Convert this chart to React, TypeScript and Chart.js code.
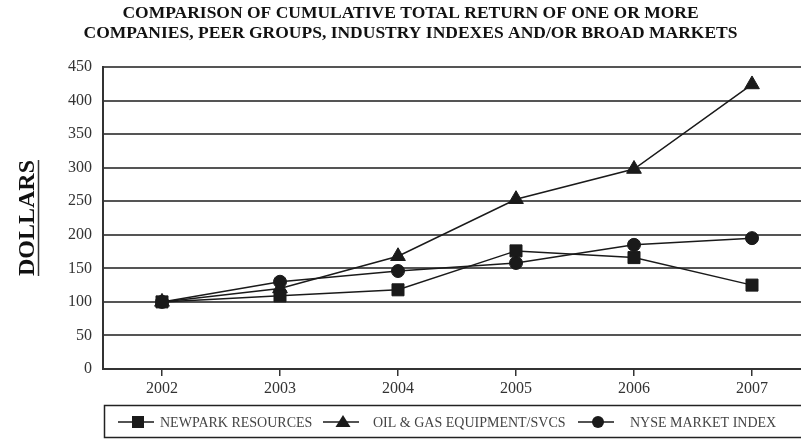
import React, { useEffect, useRef } from 'react';
import { Chart, registerables } from 'chart.js';

Chart.register(...registerables);

// ---- data ----
const years = [2002, 2003, 2004, 2005, 2006, 2007];
const newparkResources = [100, 109, 118, 176, 166, 125];
const oilGasEquipment = [100, 120, 168, 253, 298, 424];
const nyseMarketIndex = [100, 130, 146, 158, 185, 195];
const seriesNames = ['NEWPARK RESOURCES', 'OIL & GAS EQUIPMENT/SVCS', 'NYSE MARKET INDEX'];
const titleLines = [
  'COMPARISON OF CUMULATIVE TOTAL RETURN OF ONE OR MORE',
  'COMPANIES, PEER GROUPS, INDUSTRY INDEXES AND/OR BROAD MARKETS',
];
const yAxisTitle = 'DOLLARS';
const yMin = 0;
const yMax = 450;
const yStep = 50;

const SERIF = '"Liberation Serif", "Times New Roman", serif';
const INK = '#1a1a1a';

const decorations = {
  id: 'decorations',
  afterDraw(chart: any) {
    const ctx = chart.ctx as CanvasRenderingContext2D;
    const area = chart.chartArea;
    ctx.save();
    // underline of the rotated axis title
    ctx.font = `bold 24px ${SERIF}`;
    const w = ctx.measureText(yAxisTitle).width;
    const midY = (area.top + area.bottom) / 2;
    ctx.strokeStyle = '#333';
    ctx.lineWidth = 1.5;
    ctx.beginPath();
    ctx.moveTo(38.5, midY - w / 2);
    ctx.lineTo(38.5, midY + w / 2);
    ctx.stroke();

    // legend box
    ctx.strokeStyle = '#222';
    ctx.lineWidth = 1.5;
    ctx.strokeRect(104.5, 405.5, 720, 32);
    const cy = 422;
    const lineStarts = [118, 323, 578];
    const textStarts = [160, 373, 630];
    chart.data.datasets.forEach((ds: any, i: number) => {
      const x0 = lineStarts[i];
      ctx.strokeStyle = INK;
      ctx.lineWidth = 1.5;
      ctx.beginPath();
      ctx.moveTo(x0, cy);
      ctx.lineTo(x0 + 36, cy);
      ctx.stroke();
      const mx = x0 + 20;
      ctx.fillStyle = INK;
      ctx.beginPath();
      if (ds.pointStyle === 'rect') {
        ctx.rect(mx - 6, cy - 6, 12, 12);
      } else if (ds.pointStyle === 'triangle') {
        ctx.moveTo(mx, cy - 7);
        ctx.lineTo(mx + 7.5, cy + 5);
        ctx.lineTo(mx - 7.5, cy + 5);
        ctx.closePath();
      } else {
        ctx.arc(mx, cy, 6, 0, Math.PI * 2);
      }
      ctx.fill();
      ctx.fillStyle = '#444';
      ctx.font = `14px ${SERIF}`;
      ctx.textBaseline = 'middle';
      ctx.textAlign = 'left';
      ctx.fillText(ds.label, textStarts[i], cy + 1);
    });
    ctx.restore();
  },
};

export default function App() {
  const ref = useRef<HTMLCanvasElement | null>(null);

  useEffect(() => {
    document.body.style.margin = '0';
    const canvas = ref.current;
    if (!canvas) return;
    const mk = (vals: number[]) => years.map((x, i) => ({ x, y: vals[i] }));
    const base = {
      borderColor: INK,
      backgroundColor: INK,
      pointBackgroundColor: INK,
      pointBorderColor: INK,
      borderWidth: 1.5,
      pointBorderWidth: 1,
      clip: false as any,
    };
    const chart = new Chart(canvas, {
      type: 'line',
      data: {
        datasets: [
          { ...base, label: seriesNames[0], data: mk(newparkResources), pointStyle: 'rect', pointRadius: 8.5 },
          { ...base, label: seriesNames[1], data: mk(oilGasEquipment), pointStyle: 'triangle', pointRadius: 8.5 },
          { ...base, label: seriesNames[2], data: mk(nyseMarketIndex), pointStyle: 'circle', pointRadius: 6.5 },
        ],
      },
      options: {
        responsive: false,
        animation: false,
        layout: { autoPadding: false, padding: { left: 20, right: 0, top: 0, bottom: 42 } },
        plugins: {
          legend: { display: false },
          tooltip: { enabled: false },
          title: {
            display: true,
            text: titleLines,
            color: '#111',
            font: { family: SERIF, size: 17.5, weight: 'bold', lineHeight: 1.143 },
            padding: { top: 3, bottom: 24 },
          },
        },
        scales: {
          x: {
            type: 'linear',
            min: 2001.5,
            max: 2001.5 + 698 / 118,
            afterBuildTicks: (s: any) => {
              s.ticks = years.map((v) => ({ value: v }));
            },
            afterFit: (s: any) => {
              s.height = 30;
              s.paddingLeft = 0;
              s.paddingRight = 0;
            },
            ticks: {
              color: '#333',
              font: { family: SERIF, size: 16 },
              padding: 3,
              maxRotation: 0,
              autoSkip: false,
              callback: (v: any) => String(v),
            },
            grid: { drawOnChartArea: false, drawTicks: true, tickLength: 7, color: '#333', lineWidth: 1.5 },
            border: { display: true, color: '#333', width: 2 },
          },
          y: {
            min: yMin,
            max: yMax,
            afterFit: (s: any) => {
              s.width = 83;
            },
            ticks: {
              stepSize: yStep,
              color: '#333',
              font: { family: SERIF, size: 16 },
              padding: 11,
            },
            grid: { color: '#555', lineWidth: 2, drawTicks: false },
            border: { display: true, color: '#333', width: 2 },
            title: {
              display: true,
              text: yAxisTitle,
              color: '#111',
              font: { family: SERIF, size: 24, weight: 'bold', lineHeight: 0.625 },
              padding: 0,
            },
          },
        },
      },
      plugins: [decorations],
    });
    return () => chart.destroy();
  }, []);

  return (
    <div style={{ width: 801, height: 441 }}>
      <canvas ref={ref} width={801} height={441} style={{ display: 'block' }} />
    </div>
  );
}
